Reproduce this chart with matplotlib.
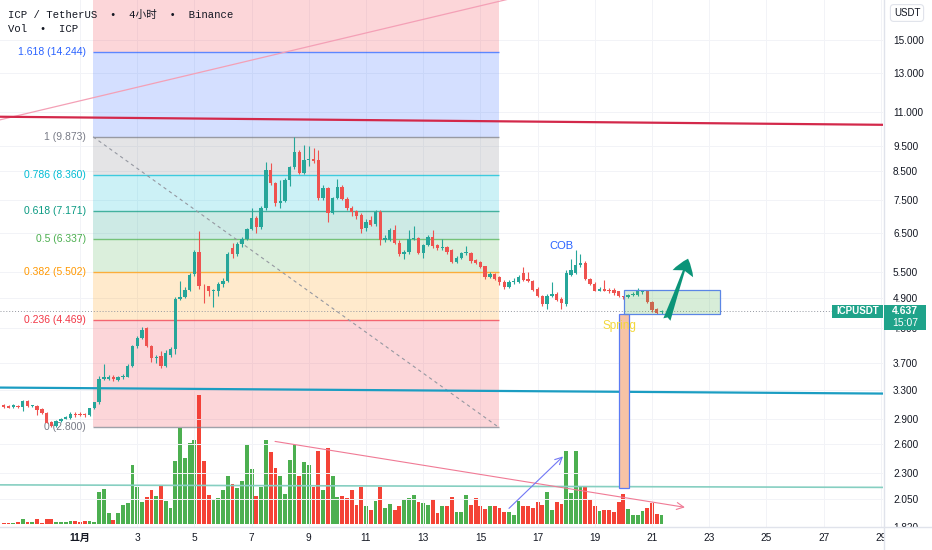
import numpy as np
import pandas as pd
import matplotlib
matplotlib.use('Agg')
import matplotlib.pyplot as plt
import matplotlib.dates as mdates
from matplotlib.patches import Rectangle
from matplotlib.lines import Line2D
from matplotlib.transforms import IdentityTransform
from matplotlib.ticker import NullLocator, FuncFormatter

plt.rcParams['font.family'] = ['Liberation Sans', 'Noto Sans CJK SC', 'DejaVu Sans']

# ---------------- data (4h candles, ICP/USDT) ----------------
first_candle = '2023-10-29 08:00'
opens = [3.08,3.07,3.06,3.07,3.06,3.14,3.07,3.07,3.03,2.98,
         2.87,2.82,2.88,2.91,2.92,2.97,2.97,2.96,2.95,3.04,
         3.12,3.46,3.46,3.49,3.44,3.48,3.49,3.66,3.98,4.12,
         4.30,3.99,3.78,3.81,3.66,3.84,3.93,4.89,4.92,5.09,
         5.45,6.00,5.18,5.16,5.05,5.05,5.21,5.29,6.10,5.93,
         6.20,6.35,6.62,6.95,6.68,7.26,8.56,8.09,7.42,7.48,
         8.20,8.67,9.25,8.45,8.94,8.96,8.94,7.58,7.92,7.10,
         7.58,7.95,7.55,7.26,7.15,7.04,6.66,6.89,6.77,7.13,
         6.32,6.32,6.60,6.24,5.95,6.00,6.35,6.37,5.97,6.18,
         6.39,6.18,6.10,6.13,6.05,5.74,5.84,5.97,5.97,5.79,
         5.73,5.63,5.38,5.45,5.38,5.27,5.14,5.25,5.26,5.48,
         5.34,5.29,5.11,4.96,4.79,4.96,5.00,4.89,4.79,5.43,
         5.48,5.67,5.72,5.34,5.22,5.07,5.10,5.09,5.09,5.05,
         4.94,4.92,4.97,4.98,5.03,5.06,4.83,4.68,4.61]
highs = [3.10,3.09,3.10,3.08,3.16,3.15,3.09,3.08,3.04,2.99,
         2.88,2.89,2.92,2.94,2.99,2.99,2.99,2.98,3.05,3.13,
         3.50,3.68,3.52,3.51,3.50,3.53,3.68,4.00,4.16,4.32,
         4.33,4.00,3.84,3.90,3.92,3.97,4.92,5.29,5.15,5.47,
         6.05,6.57,5.22,5.18,5.10,5.25,5.35,6.00,6.24,6.25,
         6.40,6.66,7.25,7.00,7.30,8.86,8.82,8.10,8.20,8.25,
         8.70,9.873,9.33,9.54,9.50,9.41,9.33,8.00,7.95,7.62,
         8.23,8.00,7.60,7.30,7.20,7.10,6.90,7.00,7.20,7.20,
         6.45,6.65,6.75,6.30,6.05,6.60,6.70,6.40,6.20,6.45,
         6.60,6.20,6.35,6.15,6.07,5.88,6.00,6.15,6.00,5.82,
         5.75,5.65,5.50,5.48,5.40,5.30,5.30,5.35,5.42,5.62,
         5.50,5.31,5.14,4.98,5.00,5.25,5.03,4.92,5.55,5.80,
         6.05,5.95,5.75,5.36,5.25,5.15,5.30,5.12,5.12,5.07,
         4.96,5.00,5.03,5.12,5.08,5.08,4.85,4.70,4.65]
lows = [3.04,3.04,3.05,3.05,3.01,3.06,3.06,2.96,2.97,2.85,
        2.80,2.80,2.87,2.90,2.91,2.93,2.94,2.93,2.94,3.03,
        3.10,3.44,3.44,3.43,3.42,3.46,3.48,3.64,3.95,4.10,
        3.97,3.72,3.70,3.63,3.64,3.80,3.85,4.86,4.90,5.05,
        5.40,5.10,4.81,4.95,4.73,4.95,5.15,5.25,5.85,5.88,
        6.12,6.30,6.58,6.50,6.62,7.20,8.00,7.30,7.26,7.45,
        7.98,8.60,8.40,8.40,8.70,8.80,7.50,7.50,6.83,7.05,
        7.55,7.50,7.20,7.00,6.90,6.50,6.55,6.70,6.70,6.18,
        6.25,6.28,6.20,5.90,5.80,5.95,6.30,5.93,5.85,6.15,
        6.10,6.05,6.05,5.95,5.70,5.70,5.80,5.92,5.72,5.68,
        5.58,5.33,5.35,5.30,5.20,5.10,5.12,5.22,5.23,5.28,
        5.26,5.05,4.92,4.75,4.67,4.93,4.84,4.67,4.75,5.40,
        5.45,5.62,5.30,5.20,5.05,5.05,5.05,5.02,4.98,4.92,
        4.88,4.90,4.95,4.95,5.00,4.80,4.62,4.57,4.57]
closes = [3.06,3.05,3.08,3.06,3.14,3.07,3.08,3.02,2.98,2.86,
          2.82,2.88,2.91,2.93,2.97,2.96,2.96,2.95,3.04,3.12,
          3.45,3.48,3.49,3.45,3.49,3.50,3.66,3.98,4.12,4.28,
          3.99,3.79,3.80,3.66,3.86,3.94,4.89,4.92,5.09,5.43,
          6.00,5.18,5.16,5.05,5.06,5.21,5.29,5.95,5.95,6.20,
          6.35,6.62,6.95,6.68,7.26,8.56,8.09,7.42,7.48,8.20,
          8.67,9.25,8.45,8.94,8.96,8.88,7.58,7.92,7.10,7.58,
          7.95,7.55,7.26,7.13,7.01,6.63,6.83,6.75,7.13,6.32,
          6.38,6.60,6.24,5.95,6.00,6.35,6.37,5.97,6.18,6.39,
          6.15,6.10,6.13,6.00,5.74,5.84,5.97,5.98,5.77,5.72,
          5.61,5.38,5.45,5.34,5.25,5.14,5.27,5.28,5.38,5.31,
          5.29,5.09,4.96,4.79,4.96,5.00,4.87,4.81,5.48,5.53,
          5.67,5.72,5.34,5.22,5.07,5.10,5.07,5.05,5.02,4.94,
          4.92,4.98,4.99,5.05,5.06,4.83,4.65,4.60,4.637]
volumes = [1,1,1,2,5,2,2,5,1,5,
           5,2,2,2,3,3,2,3,3,1.5,
           32,35,11,4,11,19,21,59,37,22,
           27,34,28,39,23,16,63,96,66,81,
           84,129,63,29,24,26,34,48,40,36,
           43,79,55,28,37,84,72,56,48,30,
           64,80,48,62,59,37,73,34,76,48,
           27,28,26,34,19,37,18,14,23,37,
           16,20,14,18,24,26,29,22,21,19,
           25,11,18,18,27,12,12,29,19,26,
           18,15,18,18,16,12,12,9,23,18,
           18,16,22,19,32,14,22,20,73,31,
           73,38,37,25,18,13,14,14,12,22,
           30,15,9,9,13,16,21,10,9]

fib_low, fib_high = 2.800, 9.8732
fib_ratios = [0, 0.236, 0.382, 0.5, 0.618, 0.786, 1, 1.618, 2.618]
fib_colors = ['#787b86', '#f23645', '#ff9800', '#4caf50', '#089981',
              '#00bcd4', '#787b86', '#2962ff', '#f23645']
fib_t1, fib_t2 = '2023-11-01 11:00', '2023-11-15 15:30'

price_ticks = [1.82, 2.05, 2.3, 2.6, 2.9, 3.3, 3.7, 4.3, 4.9, 5.5,
               6.5, 7.5, 8.5, 9.5, 11, 13, 15]
date_ticks = pd.date_range('2023-11-01', '2023-11-29', freq='2D')
date_labels = ['11月'] + [str(d.day) for d in date_ticks[1:]]

# drawings (time, price)
red_line = (('2023-10-28 12:00', 10.78), ('2023-11-30 00:00', 10.39))
cyan_line = (('2023-10-28 12:00', 3.33), ('2023-11-30 00:00', 3.24))
teal_line = (('2023-10-28 12:00', 2.183), ('2023-11-30 00:00', 2.158))
pink_trend = (('2023-10-28 12:00', 10.41), ('2023-11-19 04:00', 19.70))
vol_trend = (('2023-11-07 19:40', 2.635), ('2023-11-22 03:36', 1.98))
blue_arrow = (('2023-11-16 00:00', 1.971), ('2023-11-17 21:20', 2.469))
spring_box = ('2023-11-19 20:24', '2023-11-20 04:48', 2.150, 4.587)
range_box = ('2023-11-20 00:30', '2023-11-23 09:00', 4.587, 5.09)
green_arrow = (('2023-11-21 12:30', 4.47), ('2023-11-22 06:15', 5.82))
cob_pos = ('2023-11-17 20:24', 6.16)
spring_pos = ('2023-11-19 21:00', 4.355)

UP, DN = '#26a69a', '#ef5350'
VUP, VDN = '#4caf50', '#f44336'
TEAL = '#1fa38a'

# ---------------- figure ----------------
W, H = 932, 550
fig = plt.figure(figsize=(W / 100, H / 100), dpi=100)
fig.patch.set_facecolor('white')
rect = [0, 23 / H, 883 / W, 527 / H]
axv = fig.add_axes(rect)
ax = fig.add_axes(rect, sharex=axv)
ax.patch.set_visible(False)
axv.set_facecolor('white')

def num(s):
    return mdates.date2num(pd.Timestamp(s))

times = pd.date_range(first_candle, periods=len(closes), freq='4h')
t = mdates.date2num(times)
o, h, l, c = map(np.asarray, (opens, highs, lows, closes))
v = np.asarray(volumes, dtype=float)
up = c >= o

ax.set_yscale('log')
ax.set_ylim(1.818, 17.87)
ax.set_xlim(num('2023-10-29 04:52'), num('2023-11-29 01:51'))

# volume pane (bottom ~quarter)
span = v.max() / 0.2448
axv.set_ylim(-0.0057 * span, -0.0057 * span + span)
axv.bar(t, v, width=0.8 / 6, color=np.where(up, VUP, VDN), linewidth=0)
axv.set_yticks([])
axv.tick_params(bottom=False, labelbottom=False, left=False)
for s in axv.spines.values():
    s.set_visible(False)

# grid
ax.set_xticks(mdates.date2num(date_ticks))
ax.set_xticklabels(date_labels)
ax.set_yticks(price_ticks)
ax.yaxis.set_minor_locator(NullLocator())
ax.yaxis.set_major_formatter(FuncFormatter(lambda y, p: f'{y:.3f}'))
ax.grid(True, color='#f2f3f7', lw=0.7)
ax.set_axisbelow(True)
ax.tick_params(axis='y', left=False, labelleft=False, right=False)
ax.tick_params(axis='x', length=0, pad=4.5, labelsize=7.3, colors='#131722')
ax.get_xticklabels()[0].set_fontweight('bold')
for s in ax.spines.values():
    s.set_visible(False)

# fib retracement
ft1, ft2 = num(fib_t1), num(fib_t2)
fib_prices = [fib_low + r * (fib_high - fib_low) for r in fib_ratios]
for j in range(len(fib_ratios) - 1):
    ax.fill_between([ft1, ft2], fib_prices[j], fib_prices[j + 1],
                    color=fib_colors[j + 1], alpha=0.2, lw=0, zorder=0.6)
for r, p, cl in zip(fib_ratios, fib_prices, fib_colors):
    if r > 1.618:
        continue
    ax.hlines(p, ft1, ft2, color=cl, lw=1.0, alpha=0.7, zorder=0.8)
    ax.annotate(f'{r:g} ({p:.3f})', xy=(ft1, p), xytext=(-5, 0),
                textcoords='offset points', ha='right', va='center',
                fontsize=7.5, color=cl, zorder=0.9)
ax.plot([ft1, ft2], [fib_high, fib_low], ls=(0, (3, 3)), color='#9598a1',
        lw=0.8, zorder=0.9)

# horizontal / trend lines
def seg(line, **kw):
    (ta, pa), (tb, pb) = line
    ax.plot([num(ta), num(tb)], [pa, pb], **kw)

seg(pink_trend, color='#f4a0b6', lw=0.9, zorder=1.5)
seg(red_line, color='#d3284a', lw=1.6, zorder=1.6)
seg(cyan_line, color='#1b9dc2', lw=1.6, zorder=1.6)
seg(teal_line, color='#86cfc1', lw=1.2, zorder=1.6)
ax.axhline(c[-1], color='#9598a1', lw=0.7, ls=(0, (1, 2)), zorder=1.7)

# candles
col = np.where(up, UP, DN)
bot = np.minimum(o, c)
top = np.maximum(np.maximum(o, c), bot * 1.004)
ax.vlines(t, l, h, colors=col, lw=0.8, zorder=3)
ax.bar(t, top - bot, bottom=bot, width=0.7 / 6, color=col, linewidth=0, zorder=3.1)

# drawings
def arrow(line, **props):
    (ta, pa), (tb, pb) = line
    ax.annotate('', xy=(num(tb), pb), xytext=(num(ta), pa),
                arrowprops=dict(shrinkA=0, shrinkB=0, **props), zorder=4)

arrow(vol_trend, arrowstyle='->,head_length=0.5,head_width=0.25', color='#f07a95', lw=0.8)
arrow(blue_arrow, arrowstyle='->,head_length=0.5,head_width=0.25', color='#7177f5', lw=0.8)

sa, sb, sl, sh = spring_box
ax.add_patch(Rectangle((num(sa), sl), num(sb) - num(sa), sh - sl,
                       facecolor='#f7c3a6', edgecolor='#5b7bf5', lw=0.9, zorder=4))
ra, rb, rl, rh = range_box
ax.add_patch(Rectangle((num(ra), rl), num(rb) - num(ra), rh - rl,
                       facecolor=(0.30, 0.69, 0.31, 0.22), edgecolor='#5b86e5',
                       lw=0.9, zorder=4))
ax.text(num(cob_pos[0]), cob_pos[1], 'COB', color='#2962ff', fontsize=8,
        ha='center', va='center', zorder=5)
ax.text(num(spring_pos[0]), spring_pos[1], 'Spring', color='#f3d83c', fontsize=8.5,
        ha='center', va='center', zorder=5)
(ga, gpa), (gb, gpb) = green_arrow
ax.annotate('', xy=(num(gb), gpb), xytext=(num(ga), gpa),
            arrowprops=dict(arrowstyle='fancy,head_length=0.95,head_width=1.3,tail_width=0.45',
                            fc='#0b9478', ec='#0b9478', lw=0, mutation_scale=12,
                            shrinkA=0, shrinkB=0), zorder=5)

# price scale
axp = fig.add_axes([884 / W, 23 / H, 48 / W, 527 / H], sharey=ax)
axp.patch.set_facecolor('white')
axp.set_xticks([])
for s in axp.spines.values():
    s.set_visible(False)
axp.tick_params(axis='y', left=False, right=False, labelleft=True, length=0,
                pad=-6.5, labelsize=7.2, labelcolor='#131722')
for lab in axp.get_yticklabels():
    lab.set_horizontalalignment('left')

# overlays in pixel space
ID = IdentityTransform()
y_line = ax.transData.transform((t[-1], c[-1]))[1]
fig.add_artist(Rectangle((884, 0), 48, 23, transform=ID, fc='white', ec='none', zorder=5))
fig.add_artist(Line2D([884, 884], [0, H], transform=ID, color='#e0e3eb', lw=1, zorder=6))
fig.add_artist(Line2D([0, W], [23, 23], transform=ID, color='#e0e3eb', lw=1, zorder=6))
fig.add_artist(Rectangle((832, y_line - 6.5), 51, 13, transform=ID, fc=TEAL, ec='none', zorder=6))
fig.text(857.5, y_line, 'ICPUSDT', transform=ID, ha='center', va='center',
         color='white', fontsize=7, fontweight='bold', zorder=7)
fig.add_artist(Rectangle((884, y_line - 19), 42, 25, transform=ID, fc=TEAL, ec='none', zorder=6))
fig.text(905, y_line, f'{c[-1]:.3f}', transform=ID, ha='center', va='center',
         color='white', fontsize=7.5, fontweight='bold', zorder=7)
fig.text(905, y_line - 12, '15:07', transform=ID, ha='center', va='center',
         color='white', fontsize=7.5, zorder=7)
fig.text(907, H - 13, 'USDT', transform=ID, ha='center', va='center', fontsize=7,
         color='#131722', zorder=7,
         bbox=dict(boxstyle='round,pad=0.35', fc='white', ec='#e0e3eb', lw=0.8))

mono = ['Liberation Mono', 'Noto Sans CJK SC']
fig.text(8, H - 15, 'ICP / TetherUS  •  4小时  •  Binance', transform=ID,
         family=mono, fontsize=7.7, va='center', color='#131722', zorder=7)
fig.text(8, H - 29, 'Vol  •  ICP', transform=ID, family=mono, fontsize=7.7,
         va='center', color='#131722', zorder=7)

fig.savefig('out.png', dpi=100, facecolor='white')
